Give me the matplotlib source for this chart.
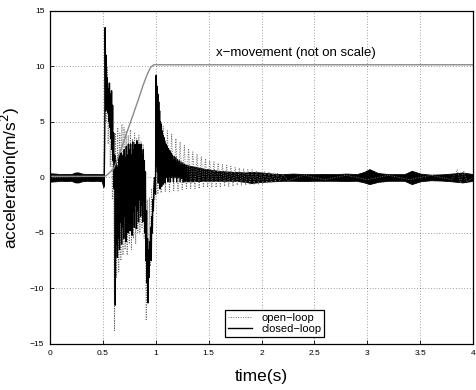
"""
Acceleration response to an x-movement step: open-loop vs closed-loop.
Values read off the reference figure (peaks of the oscillations).
"""
import matplotlib
matplotlib.use("Agg")
import matplotlib.pyplot as plt
import numpy as np

plt.rcParams["font.family"] = ["Liberation Sans", "DejaVu Sans"]

# x-movement (scaled, not on scale)
move_t = [0.0, 0.52, 0.55, 0.60, 0.62, 0.65, 0.70, 0.725, 0.78, 0.835, 0.88, 0.92, 0.95, 0.98, 1.0, 4.0]
move_a = [0.1, 0.1, 0.3, 0.8, 1.2, 2.0, 3.3, 4.0, 5.5, 7.0, 8.3, 9.3, 9.9, 10.15, 10.15, 10.15]

# closed-loop: residual noise band (upper / lower envelope)
band_t = [0.0, 0.05, 0.1, 0.15, 0.2, 0.24, 0.27, 0.30, 0.35, 0.4, 0.45, 0.49, 0.505,
          1.25, 1.35, 1.45, 1.55, 1.65, 1.75, 1.85, 1.9, 2.0, 2.1, 2.2, 2.3, 2.4, 2.5,
          2.6, 2.7, 2.8, 2.9, 2.97, 3.02, 3.1, 3.2, 3.35, 3.42, 3.5, 3.6, 3.7, 3.8,
          3.9, 4.0]
band_hi = [0.38, 0.35, 0.3, 0.32, 0.3, 0.45, 0.45, 0.35, 0.3, 0.32, 0.3, 0.3, 0.3,
           1.2, 1.0, 0.8, 0.65, 0.55, 0.5, 0.45, 0.5, 0.45, 0.35, 0.3, 0.35, 0.3, 0.3,
           0.32, 0.3, 0.35, 0.3, 0.5, 0.75, 0.4, 0.3, 0.3, 0.6, 0.35, 0.25, 0.28, 0.35,
           0.45, 0.3]
band_lo = [-0.38, -0.35, -0.3, -0.32, -0.3, -0.45, -0.45, -0.35, -0.3, -0.32, -0.3, -0.35, -0.9,
           -0.35, -0.35, -0.3, -0.3, -0.3, -0.3, -0.4, -0.5, -0.4, -0.35, -0.3, -0.3, -0.32, -0.3,
           -0.3, -0.3, -0.32, -0.3, -0.45, -0.6, -0.4, -0.3, -0.3, -0.6, -0.35, -0.25, -0.28, -0.35,
           -0.45, -0.3]

# closed-loop: burst during the movement (peak-to-peak)
cl_t = [0.505, 0.512, 0.518, 0.522, 0.527, 0.532, 0.537, 0.542, 0.547, 0.552,
        0.557, 0.562, 0.567, 0.572, 0.577, 0.582, 0.587, 0.592, 0.597, 0.602,
        0.607, 0.612, 0.617, 0.622, 0.627, 0.632, 0.637, 0.642, 0.647, 0.652,
        0.657, 0.662, 0.667, 0.672, 0.677, 0.682, 0.687, 0.692, 0.697, 0.702,
        0.707, 0.712, 0.717, 0.722, 0.727, 0.732, 0.737, 0.742, 0.747, 0.752,
        0.757, 0.762, 0.767, 0.772, 0.777, 0.782, 0.787, 0.792, 0.797, 0.802,
        0.807, 0.812, 0.817, 0.822, 0.827, 0.832, 0.837, 0.842, 0.847, 0.852,
        0.857, 0.862, 0.867, 0.872, 0.877, 0.882, 0.887, 0.892, 0.897, 0.902,
        0.907, 0.912, 0.917, 0.922, 0.927, 0.932, 0.937, 0.942, 0.947, 0.952,
        0.957, 0.962, 0.967, 0.972, 0.977, 0.982, 0.987, 0.992, 0.997,
        1.004, 1.008, 1.012, 1.016, 1.020, 1.024, 1.028, 1.032, 1.036, 1.040,
        1.044, 1.048, 1.052, 1.056, 1.060, 1.064, 1.068, 1.072, 1.076, 1.080,
        1.084, 1.090, 1.096, 1.102, 1.108, 1.114, 1.120, 1.126, 1.132, 1.138,
        1.144, 1.150, 1.158, 1.166, 1.174, 1.182, 1.190, 1.198, 1.206, 1.214,
        1.222, 1.230, 1.238, 1.246, 1.254, 1.262, 1.270, 1.280, 1.290, 1.300]
cl_a = [0.1, -0.8, 4.0, 13.5, 6.0, 11.0, 6.2, 9.0, 5.8, 8.0,
        5.0, 8.5, 4.5, 7.5, 3.5, 7.8, 2.5, 6.5, 1.5, 4.0,
        -1.0, 2.0, -11.5, 1.5, -6.0, 1.0, -7.2, 0.5, -5.5, 2.0,
        -6.5, 1.5, -4.0, 2.2, -6.0, 1.0, -4.5, 2.0, -5.5, 2.5,
        -3.5, 1.8, -5.8, 2.8, -4.0, 2.0, -5.0, 3.0, -3.5, 2.5,
        -4.8, 3.0, -3.0, 2.0, -5.2, 3.2, -3.0, 2.5, -4.5, 3.0,
        -2.5, 2.8, -4.6, 3.3, -3.0, 2.5, -4.0, 3.0, -2.0, 2.8,
        -3.5, 3.0, -2.5, 2.0, -4.0, 2.5, -2.0, 1.5, -5.0, 0.5,
        -7.5, -3.0, -9.5, -5.5, -11.3, -6.5, -9.0, -5.8, -7.0, -4.5,
        -7.5, -3.5, -5.0, -2.0, -3.0, -1.0, -0.5, 0.0, -1.5,
        9.2, 1.0, 8.2, 0.5, 7.5, -0.5, 6.8, 0.0, 6.0, -1.0,
        5.0, 0.2, 4.8, -0.8, 4.2, 0.0, 3.8, -0.6, 3.6, 0.2,
        3.3, -0.5, 3.0, 0.0, 2.8, -0.4, 2.6, 0.1, 2.4, -0.4,
        2.2, 0.0, 2.0, -0.4, 1.9, 0.0, 1.8, -0.4, 1.6, 0.0,
        1.5, -0.4, 1.4, -0.1, 1.3, -0.4, 1.2, -0.3, 1.1, -0.3]

# open-loop (peak-to-peak)
ol_t = [0.0, 0.50, 0.51, 0.52, 0.53, 0.54, 0.55, 0.56, 0.57, 0.58, 0.59,
        0.60, 0.61, 0.62, 0.63, 0.64, 0.65, 0.66, 0.67, 0.68, 0.69,
        0.70, 0.71, 0.72, 0.73, 0.74, 0.75, 0.76, 0.77, 0.78, 0.79,
        0.80, 0.81, 0.82, 0.83, 0.84, 0.85, 0.86, 0.87, 0.88, 0.89,
        0.90, 0.91, 0.92, 0.93, 0.94, 0.95, 0.96, 0.97, 0.98, 0.99,
        1.00, 1.01, 1.02, 1.03, 1.05, 1.07, 1.09, 1.11, 1.13, 1.15,
        1.17, 1.19, 1.21, 1.23, 1.25, 1.27, 1.29, 1.31, 1.33, 1.35,
        1.37, 1.39, 1.41, 1.43, 1.45, 1.47, 1.49, 1.51, 1.53, 1.55,
        1.57, 1.59, 1.61, 1.63, 1.65, 1.67, 1.69, 1.71, 1.73, 1.75,
        1.77, 1.79, 1.81, 1.83, 1.85, 1.87, 1.89, 1.91, 1.93, 1.95,
        1.97, 1.99, 2.01, 2.03, 2.05, 2.07, 2.09, 2.11, 2.13, 2.15,
        2.17, 2.20, 2.25, 2.4, 2.6, 2.8, 3.0, 3.2, 3.4, 3.6, 3.8,
        3.85, 3.88, 3.91, 3.94, 4.0]
ol_a = [0.0, 0.1, -0.5, 13.0, 5.0, 10.0, 3.0, 8.0, 1.0, 6.0, -2.0,
        3.0, -13.8, 4.0, -9.0, 4.5, -8.5, 4.0, -7.5, 4.8, -7.0,
        4.5, -6.5, 4.2, -7.0, 3.8, -6.0, 4.3, -6.5, 3.5, -5.5,
        4.0, -6.0, 3.5, -5.0, 3.8, -5.0, 3.2, -4.5, 3.0, -5.5,
        -1.5, -12.9, -2.0, -10.0, -1.8, -8.0, -1.0, -5.0, 0.0, -2.0,
        -1.0, 8.5, -1.5, 5.0, -1.4, 4.6, -1.3, 4.2, -1.3, 3.9,
        -1.2, 3.5, -1.2, 3.2, -1.1, 2.9, -1.1, 2.6, -1.0, 2.3,
        -1.0, 2.1, -1.0, 1.9, -0.9, 1.7, -0.9, 1.5, -0.9, 1.4,
        -0.9, 1.3, -0.9, 1.2, -0.8, 1.1, -0.8, 1.0, -0.8, 0.9,
        -0.7, 0.85, -0.7, 0.8, -0.7, 0.7, -0.6, 0.7, -0.6, 0.6,
        -0.6, 0.55, -0.6, 0.5, -0.5, 0.45, -0.5, 0.4, -0.4, 0.35,
        -0.35, 0.3, -0.3, 0.2, -0.2, 0.2, -0.2, 0.2, -0.2, 0.2, -0.2,
        0.7, -0.5, 0.6, -0.4, 0.0]

fig = plt.figure(figsize=(4.76, 3.9), dpi=100)
ax = fig.add_axes([0.105, 0.118, 0.889, 0.854])

ol_line, = ax.plot(ol_t, ol_a, color="#6e6e6e", linestyle=(0, (1, 1.5)), linewidth=0.7,
                   label="open\u2212loop")
ax.fill_between(band_t[:13], band_lo[:13], band_hi[:13], color="k", linewidth=0.6,
                edgecolor="k")
ax.fill_between(band_t[13:], band_lo[13:], band_hi[13:], color="k", linewidth=0.6,
                edgecolor="k")
cl_line, = ax.plot(cl_t, cl_a, color="k", linewidth=1.0, label="closed\u2212loop")
ax.plot(move_t, move_a, color="#8a8a8a", linewidth=1.0)

ax.text(2.32, 11.2, "x\u2212movement (not on scale)", fontsize=9.5, ha="center", va="center")

ax.set_xlim(0, 4)
ax.set_ylim(-15, 15)
ax.set_xticks(np.arange(0, 4.01, 0.5))
ax.set_xticklabels(["0", "0.5", "1", "1.5", "2", "2.5", "3", "3.5", "4"])
ax.set_yticks([-15, -10, -5, 0, 5, 10, 15])
ax.set_yticklabels(["\u221215", "\u221210", "\u22125", "0", "5", "10", "15"])
ax.tick_params(direction="in", labelsize=6, length=3, width=0.6, pad=4)
ax.grid(True, color="k", linestyle=(0, (1, 3)), linewidth=0.5, alpha=0.7)
for sp in ax.spines.values():
    sp.set_linewidth(0.9)

ax.set_xlabel("time(s)", fontsize=12.5, labelpad=9)
ax.set_ylabel("acceleration(m/s$^2$)", fontsize=12.5, labelpad=6)

leg = ax.legend(handles=[ol_line, cl_line], loc="lower left",
                bbox_to_anchor=(0.414, 0.021), borderaxespad=0, fontsize=8,
                fancybox=False, framealpha=1, edgecolor="k", handlelength=2.2,
                borderpad=0.25, labelspacing=0.1, handletextpad=0.8)
leg.get_frame().set_linewidth(0.9)

fig.savefig("out.png", dpi=100)
